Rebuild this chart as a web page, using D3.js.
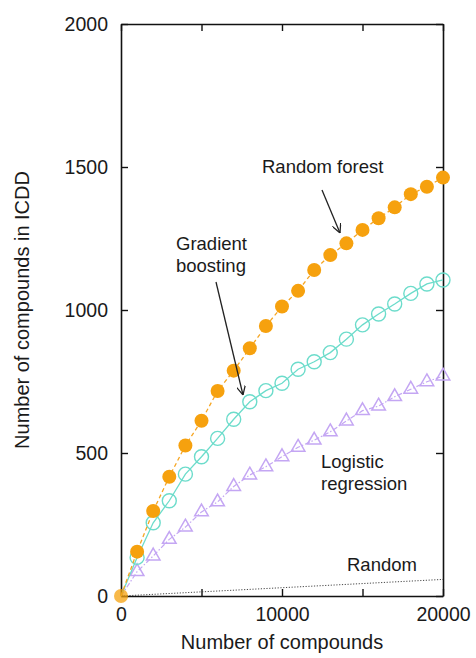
<!DOCTYPE html>
<html>
<head>
<meta charset="utf-8">
<script src="https://cdn.jsdelivr.net/npm/d3@7"></script>
<style>
  body { margin: 0; background: #fff; }
  text { font-family: "Liberation Sans", Arial, sans-serif; fill: #1a1a1a; }
</style>
</head>
<body>
<div id="chart"></div>
<script>
// compounds tested (x)
const compounds = [0, 1000, 2000, 3000, 4000, 5000, 6000, 7000, 8000, 9000, 10000,
  11000, 12000, 13000, 14000, 15000, 16000, 17000, 18000, 19000, 20000];

// found in ICDD (y)
const randomForest = [0, 155, 297, 417, 526, 613, 717, 788, 866, 944, 1012,
  1067, 1140, 1192, 1233, 1280, 1321, 1359, 1405, 1431, 1463];
const gradientBoosting = [0, 135, 256, 333, 426, 487, 551, 618, 679, 718, 744,
  793, 819, 851, 898, 948, 986, 1021, 1058, 1091, 1105];
const logisticRegression = [0, 85, 140, 198, 241, 294, 329, 383, 423, 452, 487,
  520, 545, 574, 612, 648, 664, 697, 723, 749, 769];
const randomX = [0, 20000];
const randomY = [0, 58];

const yTicks = [0, 500, 1000, 1500, 2000];
const xTicks = [0, 5000, 10000, 15000, 20000];
const xLabelTicks = [0, 10000, 20000];

const width = 476, height = 658;
const margin = ({top: 24, right: 33, bottom: 62, left: 121});

const svg = d3.select("#chart")
  .append("svg")
    .attr("width", width)
    .attr("height", height);

const x = d3.scaleLinear()
  .domain([0, 20000])
  .range([margin.left, width - margin.right]);

const y = d3.scaleLinear()
  .domain([0, 2000])
  .range([height - margin.bottom, margin.top]);

const tickLen = 7;
const fmt = d3.format("d");

// frame with inward ticks
svg.append("g")
    .attr("transform", `translate(0,${y(0)})`)
    .call(d3.axisBottom(x).tickValues(xTicks).tickSize(-tickLen).tickSizeOuter(0).tickPadding(11)
      .tickFormat(d => xLabelTicks.includes(d) ? fmt(d) : ""));
svg.append("g")
    .attr("transform", `translate(0,${y(2000)})`)
    .call(d3.axisTop(x).tickValues(xTicks).tickSize(-tickLen).tickSizeOuter(0).tickFormat(""));
svg.append("g")
    .attr("transform", `translate(${x(0)},0)`)
    .call(d3.axisLeft(y).tickValues(yTicks).tickSize(-tickLen).tickSizeOuter(0).tickPadding(13)
      .tickFormat(fmt));
svg.append("g")
    .attr("transform", `translate(${x(20000)},0)`)
    .call(d3.axisRight(y).tickValues(yTicks).tickSize(-tickLen).tickSizeOuter(0).tickFormat(""));

svg.selectAll(".domain").attr("stroke", "#111").attr("stroke-width", 1.6);
svg.selectAll(".tick line").attr("stroke", "#111").attr("stroke-width", 1.4);
svg.selectAll(".tick text")
    .attr("font-family", "Liberation Sans, Arial, sans-serif")
    .attr("font-size", 19.5)
    .attr("fill", "#1a1a1a");

const line = d3.line()
  .x((d, i) => x(compounds[i]))
  .y(d => y(d));

// random baseline
svg.append("path")
  .datum(randomY)
    .attr("fill", "none")
    .attr("stroke", "#333")
    .attr("stroke-width", 0.9)
    .attr("stroke-dasharray", "1.2,1.6")
    .attr("d", d3.line().x((d, i) => x(randomX[i])).y(d => y(d)));

// logistic regression: dash-dot, open triangles
svg.append("path")
  .datum(logisticRegression)
    .attr("fill", "none")
    .attr("stroke", "#c4a6f3")
    .attr("stroke-width", 1.2)
    .attr("stroke-dasharray", "5,2,1.5,2")
    .attr("d", line);
svg.append("g")
  .selectAll("path")
  .data(logisticRegression.slice(1))
  .join("path")
    .attr("transform", (d, i) => `translate(${x(compounds[i + 1])},${y(d)})`)
    .attr("d", d3.symbol(d3.symbolTriangle, 80))
    .attr("fill", "none")
    .attr("stroke", "#c4a6f3")
    .attr("stroke-width", 1.5);

// gradient boosting: solid, open circles
svg.append("path")
  .datum(gradientBoosting)
    .attr("fill", "none")
    .attr("stroke", "#6cdccb")
    .attr("stroke-width", 1.3)
    .attr("d", line);
svg.append("g")
  .selectAll("circle")
  .data(gradientBoosting.slice(1))
  .join("circle")
    .attr("cx", (d, i) => x(compounds[i + 1]))
    .attr("cy", d => y(d))
    .attr("r", 7)
    .attr("fill", "none")
    .attr("stroke", "#6cdccb")
    .attr("stroke-width", 1.4);

// random forest: dashed, filled circles
svg.append("path")
  .datum(randomForest)
    .attr("fill", "none")
    .attr("stroke", "#f6a623")
    .attr("stroke-width", 1.3)
    .attr("stroke-dasharray", "4,3")
    .attr("d", line);
svg.append("g")
  .selectAll("circle")
  .data(randomForest)
  .join("circle")
    .attr("cx", (d, i) => x(compounds[i]))
    .attr("cy", d => y(d))
    .attr("r", 7)
    .attr("fill", "#f6a10e")
    .attr("opacity", (d, i) => i === 0 ? 0.75 : 1);

// annotations
const notes = svg.append("g")
    .attr("font-size", 18.5);
notes.append("text").attr("x", 262).attr("y", 173).text("Random forest");
notes.append("text").attr("x", 176).attr("y", 250).text("Gradient");
notes.append("text").attr("x", 176).attr("y", 272).text("boosting");
notes.append("text").attr("x", 321).attr("y", 468).text("Logistic");
notes.append("text").attr("x", 321).attr("y", 490).text("regression");
notes.append("text").attr("x", 347).attr("y", 571).text("Random");

svg.append("defs").append("marker")
    .attr("id", "arrow")
    .attr("viewBox", "0 0 10 10")
    .attr("refX", 10).attr("refY", 5)
    .attr("markerWidth", 9).attr("markerHeight", 9)
    .attr("markerUnits", "userSpaceOnUse")
    .attr("orient", "auto")
  .append("path")
    .attr("d", "M0,0 L10,5 L0,10")
    .attr("fill", "none")
    .attr("stroke", "#222")
    .attr("stroke-width", 1.4);

svg.append("line")
    .attr("x1", 322).attr("y1", 190).attr("x2", 340).attr("y2", 233)
    .attr("stroke", "#222").attr("stroke-width", 1.3)
    .attr("marker-end", "url(#arrow)");
svg.append("line")
    .attr("x1", 216).attr("y1", 282).attr("x2", 243).attr("y2", 395)
    .attr("stroke", "#222").attr("stroke-width", 1.3)
    .attr("marker-end", "url(#arrow)");

// axis titles
svg.append("text")
    .attr("x", (margin.left + width - margin.right) / 2)
    .attr("y", 649)
    .attr("text-anchor", "middle")
    .attr("font-size", 20)
    .text("Number of compounds");

svg.append("text")
    .attr("transform", `translate(29,${(y(0) + y(2000)) / 2}) rotate(-90)`)
    .attr("text-anchor", "middle")
    .attr("font-size", 20)
    .text("Number of compounds in ICDD");
</script>
</body>
</html>
